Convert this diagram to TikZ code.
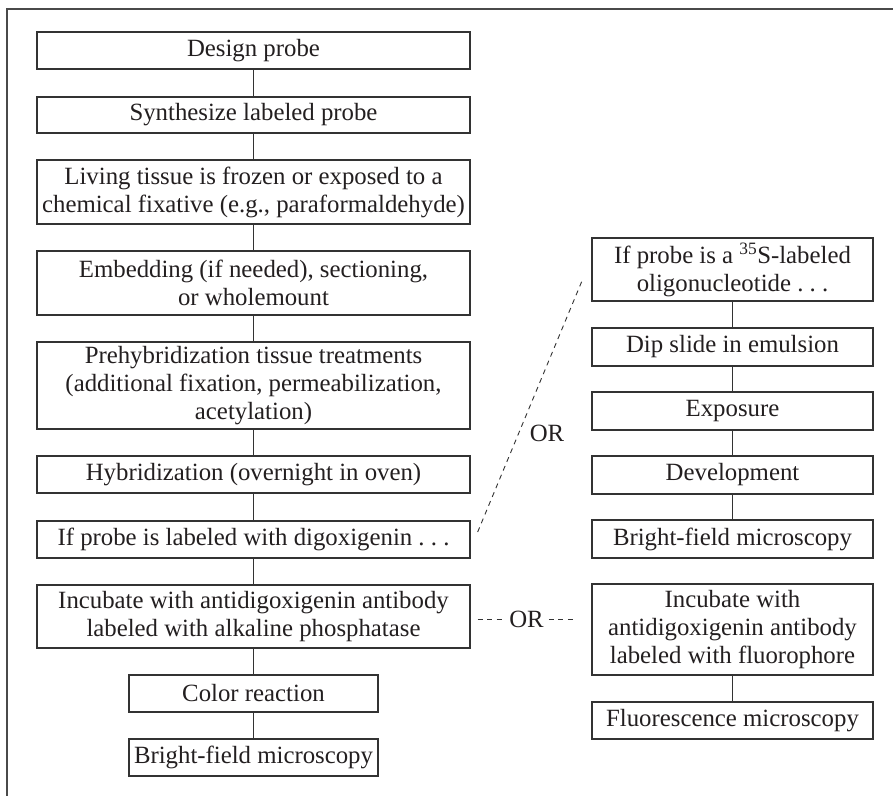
\documentclass[tikz,border=0pt]{standalone}
\usepackage{fontspec}
\setmainfont{Liberation Serif}
\usetikzlibrary{calc}
\definecolor{inkc}{HTML}{231F20}
\definecolor{boxc}{HTML}{333333}
\definecolor{framec}{HTML}{4A4A4A}
\tikzset{
  stepbox/.style={draw=boxc, line width=1.3pt, text=inkc, align=center,
    inner sep=0pt, font=\fontsize{24.8}{28}\selectfont},
  leftbox/.style={stepbox, minimum width=433pt},
  rightbox/.style={stepbox, minimum width=281pt},
  smallbox/.style={stepbox, minimum width=249pt},
  link/.style={draw=boxc, line width=0.9pt},
  orline/.style={draw=boxc, line width=0.9pt, dash pattern=on 5pt off 4.5pt},
  orlabel/.style={text=inkc, inner sep=0pt, font=\fontsize{24.8}{28}\selectfont}
}
\begin{document}
\begin{tikzpicture}[x=1pt,y=-1pt]
\useasboundingbox (0,0) rectangle (893,796);
\fill[white] (0,0) rectangle (893,796);
% frame (cropped)
\draw[framec, line width=2pt] (893,8.5) -- (6.5,8.5) -- (6.5,796);

% left column
\node[leftbox, minimum height=37pt] (design) at (253.5,50.5) {Design probe};
\node[leftbox, minimum height=36pt] (synth) at (253.5,115) {Synthesize labeled probe};
\node[leftbox, minimum height=64pt] (living) at (253.5,192) {Living tissue is frozen or exposed to a\\chemical fixative (e.g., paraformaldehyde)};
\node[leftbox, minimum height=64pt] (embed) at (253.5,283) {Embedding (if needed), sectioning,\\or wholemount};
\node[leftbox, minimum height=87pt] (prehyb) at (253.5,385.5) {Prehybridization tissue treatments\\(additional fixation, permeabilization,\\acetylation)};
\node[leftbox, minimum height=37pt] (hyb) at (253.5,474.5) {Hybridization (overnight in oven)};
\node[leftbox, minimum height=37pt] (dig) at (253.5,539.5) {If probe is labeled with digoxigenin .~.~.};
\node[leftbox, minimum height=63pt] (incL) at (253.5,616.5) {Incubate with antidigoxigenin antibody\\labeled with alkaline phosphatase};
\node[smallbox, minimum height=37pt] (color) at (253.5,693.5) {Color reaction};
\node[smallbox, minimum height=37pt] (bfL) at (253.5,757.5) {Bright-field microscopy};

% right column
\node[rightbox, minimum height=63pt] (s35) at (732.5,269.5) {If probe is a \textsuperscript{35}S-labeled\\oligonucleotide .~.~.};
\node[rightbox, minimum height=38pt] (dip) at (732.5,347) {Dip slide in emulsion};
\node[rightbox, minimum height=38pt] (expo) at (732.5,411) {Exposure};
\node[rightbox, minimum height=38pt] (dev) at (732.5,475) {Development};
\node[rightbox, minimum height=38pt] (bfR) at (732.5,539) {Bright-field microscopy};
\node[rightbox, minimum height=91pt] (incR) at (732.5,629.5) {Incubate with\\antidigoxigenin antibody\\labeled with fluorophore};
\node[rightbox, minimum height=37pt] (fluor) at (732.5,720.5) {Fluorescence microscopy};

% connectors
\draw[link] (design) -- (synth);
\draw[link] (synth) -- (living);
\draw[link] (living) -- (embed);
\draw[link] (embed) -- (prehyb);
\draw[link] (prehyb) -- (hyb);
\draw[link] (hyb) -- (dig);
\draw[link] (dig) -- (incL);
\draw[link] (incL) -- (color);
\draw[link] (color) -- (bfL);
\draw[link] (s35) -- (dip);
\draw[link] (dip) -- (expo);
\draw[link] (expo) -- (dev);
\draw[link] (dev) -- (bfR);
\draw[link] (incR) -- (fluor);

% OR alternatives
\coordinate (dA) at ($(dig.east)+(7,-7.5)$);
\coordinate (dB) at ($(s35.west)+(-9,10.5)$);
\draw[orline] (dA) -- (dB);
\node[orlabel] (orD) at (547,433) {OR};

\node[orlabel] (orH) at (526.5,619) {OR};
\coordinate (hA) at ($(incL.east|-orH)+(7,0)$);
\coordinate (hB) at ($(incR.west|-orH)+(-17,0)$);
\draw[orline] (hA) -- ($(orH.west)+(-6,0)$);
\draw[orline] ($(orH.east)+(5,0)$) -- (hB);
\end{tikzpicture}
\end{document}
